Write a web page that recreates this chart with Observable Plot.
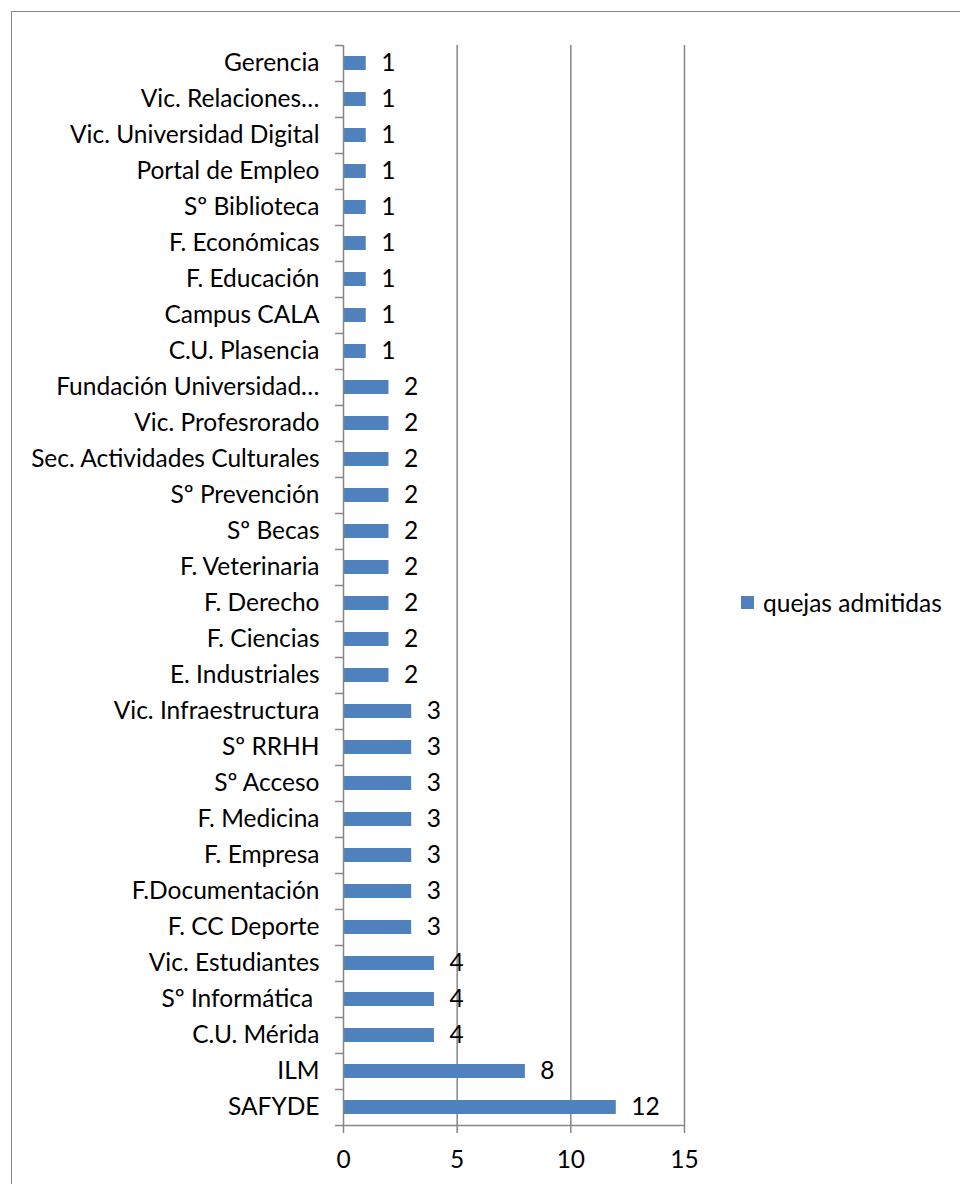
<!DOCTYPE html>
<html><head><meta charset="utf-8">
<script src="https://cdn.jsdelivr.net/npm/d3@7"></script>
<script src="https://cdn.jsdelivr.net/npm/@observablehq/plot@0.6"></script>
<style>
body{margin:0;background:#fff;}
#wrap{position:relative;width:960px;height:1184px;overflow:hidden;font-family:Lato,sans-serif;}
#frame{position:absolute;left:11px;top:11px;width:1000px;height:1250px;border:1.5px solid #878787;}
#chart{position:absolute;left:0;top:0;}
#legend{position:absolute;left:741px;top:588px;display:flex;align-items:center;font-size:24.5px;color:#000;white-space:nowrap;}
#legend .sw{display:inline-block;width:13px;height:13px;background:#4F81BD;margin-right:9px;}
</style></head><body>
<div id="wrap"><div id="frame"></div><div id="chart"></div><div id="legend"><span class="sw"></span><span id="legtext"></span></div></div>
<script>
const categories = [
  "Gerencia", "Vic. Relaciones…", "Vic. Universidad Digital", "Portal de Empleo",
  "Sº Biblioteca", "F. Económicas", "F. Educación", "Campus CALA", "C.U. Plasencia",
  "Fundación Universidad…", "Vic. Profesrorado", "Sec. Actividades Culturales",
  "Sº Prevención", "Sº Becas", "F. Veterinaria", "F. Derecho", "F. Ciencias",
  "E. Industriales", "Vic. Infraestructura", "Sº RRHH", "Sº Acceso", "F. Medicina",
  "F. Empresa", "F.Documentación", "F. CC Deporte", "Vic. Estudiantes",
  "Sº Informática\u00a0", "C.U. Mérida", "ILM", "SAFYDE"
];
const values = [1,1,1,1,1,1,1,1,1, 2,2,2,2,2,2,2,2,2, 3,3,3,3,3,3,3, 4,4,4, 8,12];
const xTicks = [0, 5, 10, 15];
const gridTicks = [5, 10, 15];
const seriesName = "quejas admitidas";

const data = categories.map((c, i) => ({category: c, value: values[i]}));
const gray = "#868686";
const step = (1184 - 45 - 58) / categories.length;

const chart = Plot.plot({
  width: 960, height: 1184,
  marginLeft: 343, marginRight: 276, marginTop: 45, marginBottom: 58,
  style: {fontFamily: "Lato, sans-serif", fontSize: "24.5px", color: "#000", background: "transparent", overflow: "visible"},
  x: {domain: [0, 15]},
  y: {domain: categories, paddingInner: 0.6, paddingOuter: 0.3},
  marks: [
    Plot.ruleX(gridTicks, {stroke: gray, strokeWidth: 1.5}),
    Plot.barX(data, {x: "value", y: "category", fill: "#4F81BD"}),
    Plot.text(data, {x: "value", y: "category", text: d => String(d.value), textAnchor: "start", dx: 15, fill: "#000"}),
    Plot.ruleY(categories, {y: d => d, x1: -0.35, x2: 0, dy: -step / 2, stroke: gray, strokeWidth: 1.5}),
    Plot.ruleY(categories.slice(-1), {y: d => d, x1: -0.35, x2: 15, dy: step / 2, stroke: gray, strokeWidth: 1.5}),
    Plot.ruleX([0], {stroke: gray, strokeWidth: 1.5}),
    Plot.axisY({tickSize: 0, tickPadding: 24, label: null}),
    Plot.axisX({ticks: xTicks, tickSize: 7, tickPadding: 17, stroke: gray, strokeWidth: 1.5, label: null, tickFormat: d => String(d)})
  ]
});
document.getElementById("chart").appendChild(chart);
document.getElementById("legtext").textContent = seriesName;
</script>
</body></html>
